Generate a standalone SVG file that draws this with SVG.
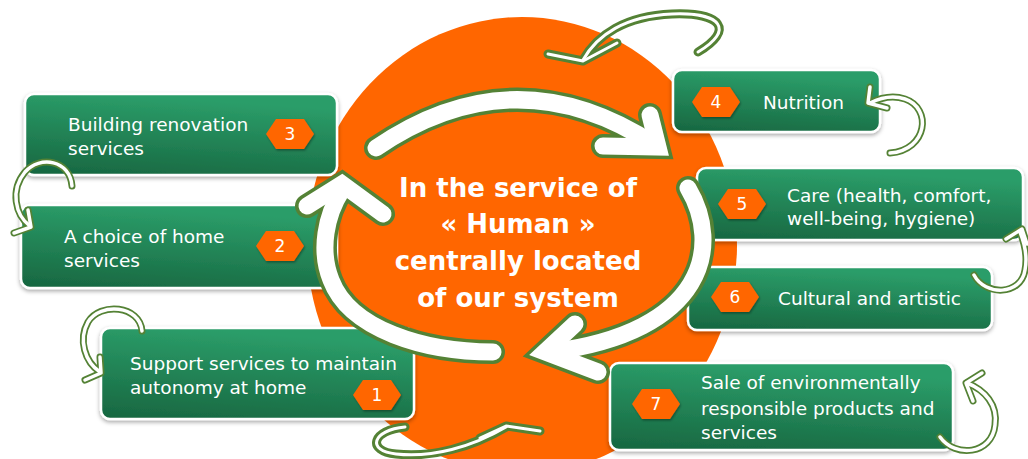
<svg xmlns="http://www.w3.org/2000/svg" width="1028" height="459" viewBox="0 0 1028 459">
<defs>
<linearGradient id="gb" x1="0" y1="1" x2="0.25" y2="0">
<stop offset="0" stop-color="#176640"/>
<stop offset="1" stop-color="#2b9d69"/>
</linearGradient>
<filter id="sh" x="-10%" y="-20%" width="120%" height="150%">
<feDropShadow dx="0" dy="2" stdDeviation="2" flood-color="#000" flood-opacity="0.35"/>
</filter>
<filter id="hs" x="-20%" y="-20%" width="140%" height="150%">
<feDropShadow dx="1" dy="1.5" stdDeviation="1" flood-color="#000" flood-opacity="0.35"/>
</filter>
<polygon id="hex" points="-24,0 -14,-15 14,-15 24,0 14,15 -14,15"/>
</defs>
<style>
.box{fill:url(#gb);stroke:#fff;stroke-width:2.5;filter:url(#sh)}
.t{font-family:"DejaVu Sans",Verdana,sans-serif;font-size:18.5px;fill:#fff}
.n{font-family:"DejaVu Sans",Verdana,sans-serif;font-size:17px;fill:#fff;text-anchor:middle}
.hx{fill:#ff6600;filter:url(#hs)}
.c{font-family:"DejaVu Sans",Verdana,sans-serif;font-size:26px;font-weight:bold;fill:#fff;text-anchor:middle}
.bo{fill:none;stroke:#548235;stroke-width:24;stroke-linecap:round;stroke-linejoin:miter}
.bi{fill:none;stroke:#fff;stroke-width:17;stroke-linecap:round;stroke-linejoin:miter}
.so{fill:none;stroke:#548235;stroke-width:7;stroke-linecap:round;stroke-linejoin:round}
.si{fill:none;stroke:#fff;stroke-width:3.5;stroke-linecap:round;stroke-linejoin:round}
.to{fill:none;stroke:#548235;stroke-width:9;stroke-linecap:round;stroke-linejoin:round}
.ti{fill:none;stroke:#fff;stroke-width:3;stroke-linecap:round;stroke-linejoin:round}
</style>
<rect width="1028" height="459" fill="#fff"/>
<ellipse id="hub" cx="522" cy="245" rx="215" ry="228" fill="#ff6600"/>

<g id="node3">
<rect class="box" x="25" y="94" width="312" height="81" rx="9"/>
<text class="t" x="68" y="131">Building renovation</text>
<text class="t" x="68" y="155">services</text>
<use href="#hex" class="hx" x="290" y="134"/>
<text class="n" x="290" y="140">3</text>
</g>
<g id="node2">
<rect class="box" x="21" y="205" width="316" height="83" rx="9"/>
<text class="t" x="64" y="243">A choice of home</text>
<text class="t" x="64" y="267">services</text>
<use href="#hex" class="hx" x="280" y="246"/>
<text class="n" x="280" y="252">2</text>
</g>
<g id="node1">
<rect class="box" x="101" y="328" width="313" height="91" rx="9"/>
<text class="t" x="130" y="370">Support services to maintain</text>
<text class="t" x="130" y="394">autonomy at home</text>
<use href="#hex" class="hx" x="377" y="395"/>
<text class="n" x="377" y="401">1</text>
</g>
<g id="node4">
<rect class="box" x="673" y="70" width="207" height="62" rx="9"/>
<text class="t" x="763" y="109">Nutrition</text>
<use href="#hex" class="hx" x="716" y="102"/>
<text class="n" x="716" y="108">4</text>
</g>
<g id="node5">
<rect class="box" x="697" y="168" width="326" height="72" rx="9"/>
<text class="t" x="787" y="202">Care (health, comfort,</text>
<text class="t" x="787" y="225">well-being, hygiene)</text>
<use href="#hex" class="hx" x="742" y="204"/>
<text class="n" x="742" y="210">5</text>
</g>
<g id="node6">
<rect class="box" x="688" y="267" width="304" height="63" rx="9"/>
<text class="t" x="778" y="305">Cultural and artistic</text>
<use href="#hex" class="hx" x="735" y="297"/>
<text class="n" x="735" y="303">6</text>
</g>
<g id="node7">
<rect class="box" x="610" y="363" width="343" height="87" rx="9"/>
<text class="t" x="701" y="389">Sale of environmentally</text>
<text class="t" x="701" y="415">responsible products and</text>
<text class="t" x="701" y="439">services</text>
<use href="#hex" class="hx" x="656" y="404"/>
<text class="n" x="656" y="410">7</text>
</g>

<g id="connectors">
<g id="cycle-top">
<path class="bo" d="M376,148 Q515,53 655,145"/>
<polyline class="bo" points="650,115 658,147 603,146"/>
<path class="bi" d="M376,148 Q515,53 655,145"/>
<polyline class="bi" points="650,115 658,147 603,146"/>
</g>
<g id="cycle-right">
<path class="bo" d="M688,188 C722,245 707,332 550,352"/>
<polyline class="bo" points="575,324 545,352 598,372"/>
<path class="bi" d="M688,188 C722,245 707,332 550,352"/>
<polyline class="bi" points="575,324 545,352 598,372"/>
</g>
<g id="cycle-left">
<path class="bo" d="M493,352 C425,352 350,330 331,280 C319,250 326,215 342,190"/>
<polyline class="bo" points="307,206 342,184 383,214"/>
<path class="bi" d="M493,352 C425,352 350,330 331,280 C319,250 326,215 342,190"/>
<polyline class="bi" points="307,206 342,184 383,214"/>
</g>

<g id="swirl-top">
<path class="to" d="M698,52 C735,30 722,12 672,14 C625,16 597,35 583,60"/>
<polyline class="to" points="548,54 583,61 617,43"/>
<path class="ti" d="M698,52 C735,30 722,12 672,14 C625,16 597,35 583,60"/>
<polyline class="ti" points="548,54 583,61 617,43"/>
</g>
<g id="swirl-bottom">
<path class="to" d="M405,427 C372,430 366,451 396,454 C432,458 472,447 506,427"/>
<polyline class="to" points="480,438 506,426 540,431"/>
<path class="ti" d="M405,427 C372,430 366,451 396,454 C432,458 472,447 506,427"/>
<polyline class="ti" points="480,438 506,426 540,431"/>
</g>
<g id="curl-3-2">
<path class="so" d="M72,186 C70,160 40,155 25,172 C10,190 15,215 30,226"/>
<polyline class="so" points="28,210 31,227 14,233"/>
<path class="si" d="M72,186 C70,160 40,155 25,172 C10,190 15,215 30,226"/>
<polyline class="si" points="28,210 31,227 14,233"/>
</g>
<g id="curl-to-1">
<path class="so" d="M142,331 C140,305 100,302 88,322 C78,340 85,362 100,372"/>
<polyline class="so" points="100,357 101,373 85,380"/>
<path class="si" d="M142,331 C140,305 100,302 88,322 C78,340 85,362 100,372"/>
<polyline class="si" points="100,357 101,373 85,380"/>
</g>
<g id="curl-to-4">
<path class="so" d="M890,153 C928,150 932,108 905,99 C893,95 880,98 870,103"/>
<polyline class="so" points="870,87 868,103 887,108"/>
<path class="si" d="M890,153 C928,150 932,108 905,99 C893,95 880,98 870,103"/>
<polyline class="si" points="870,87 868,103 887,108"/>
</g>
<g id="curl-6-5">
<path class="so" d="M974,275 C985,296 1021,296 1025,270 C1028,255 1024,242 1020,232"/>
<polyline class="so" points="1006,239 1022,229 1027,244"/>
<path class="si" d="M974,275 C985,296 1021,296 1025,270 C1028,255 1024,242 1020,232"/>
<polyline class="si" points="1006,239 1022,229 1027,244"/>
</g>
<g id="curl-to-7">
<path class="so" d="M940,437 C955,458 992,455 995,425 C998,405 985,390 967,383"/>
<polyline class="so" points="982,373 966,383 973,401"/>
<path class="si" d="M940,437 C955,458 992,455 995,425 C998,405 985,390 967,383"/>
<polyline class="si" points="982,373 966,383 973,401"/>
</g>
</g>

<g id="center-text">
<text class="c" x="518" y="197">In the service of</text>
<text class="c" x="518" y="233">« Human »</text>
<text class="c" x="518" y="270">centrally located</text>
<text class="c" x="518" y="307">of our system</text>
</g>
</svg>
